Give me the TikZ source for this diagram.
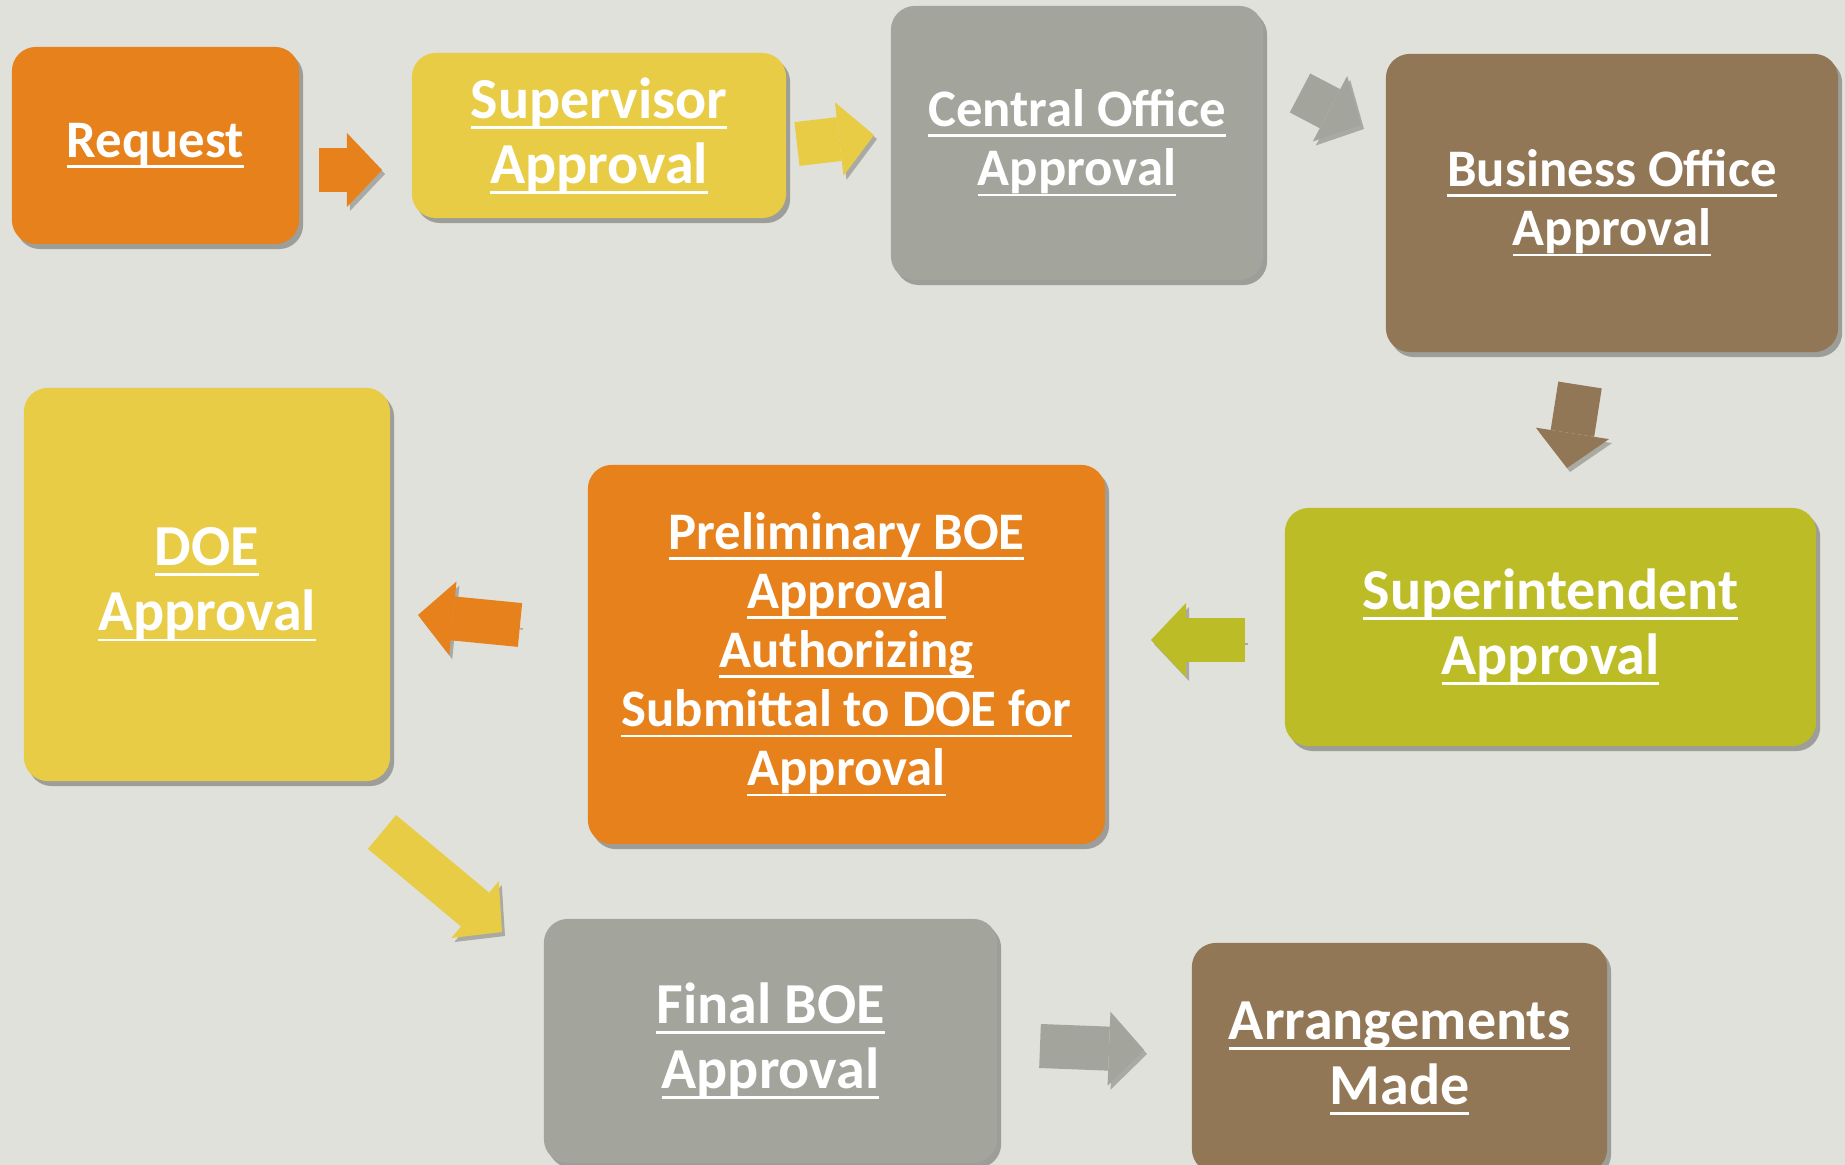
\documentclass[tikz,border=0pt]{standalone}
\usepackage{fontspec}
\setmainfont{Carlito}
\usetikzlibrary{arrows.meta,shadows}
\definecolor{bgc}{HTML}{E0E1DA}
\definecolor{orangec}{HTML}{E6811C}
\definecolor{yellowc}{HTML}{E9CC45}
\definecolor{grayc}{HTML}{A3A49C}
\definecolor{brownc}{HTML}{927756}
\definecolor{olivec}{HTML}{BCBC26}
\definecolor{shadowc}{HTML}{A9AAA3}
\newcommand{\uln}[1]{\setbox0\hbox{#1}\rlap{\rule[-3.0pt]{\wd0}{0.8pt}}\box0}

\begin{document}
\begin{tikzpicture}[x=0.01cm,y=-0.01cm,
  box/.style={fill=#1,rounded corners=0.24cm,text=white,align=center,inner sep=0pt,
    font=\bfseries\fontsize{15}{16.8}\selectfont,
    drop shadow={shadow xshift=0.04cm,shadow yshift=-0.05cm,opacity=0.45,fill=black!70}},
  big/.style={font=\bfseries\fontsize{16.5}{18.5}\selectfont},
  flow/.style={draw=#1,line width=0.44cm,-{Triangle[length=0.35cm,width=0.74cm,line width=0pt]},
    preaction={draw=shadowc,transform canvas={shift={(0.03cm,-0.04cm)}}}}]
  \fill[bgc] (0,0) rectangle (1845,1165);
  \useasboundingbox (0,0) rectangle (1845,1165);
  \node[box=orangec,minimum width=2.87cm,minimum height=1.97cm] (request) at (155.5,145.5) {\uln{Request}};
  \node[box=yellowc,big,minimum width=3.74cm,minimum height=1.65cm] (supervisor) at (599,135.5) {\uln{Supervisor}\\\uln{Approval}};
  \node[box=grayc,minimum width=3.72cm,minimum height=2.74cm] (central) at (1077,143) {\uln{Central Office}\\\uln{Approval}};
  \node[box=brownc,minimum width=4.52cm,minimum height=2.98cm] (business) at (1612,203) {\uln{Business Office}\\\uln{Approval}};
  \node[box=olivec,big,minimum width=5.31cm,minimum height=2.38cm] (superint) at (1550.5,627) {\uln{Superintendent}\\\uln{Approval}};
  \node[box=orangec,minimum width=5.17cm,minimum height=3.79cm] (prelim) at (846.5,654.5) {\uln{Preliminary BOE}\\\uln{Approval}\\\uln{Authorizing}\\\uln{Submittal to DOE for}\\\uln{Approval}};
  \node[box=yellowc,big,minimum width=3.66cm,minimum height=3.93cm] (doe) at (207,584.5) {\uln{DOE}\\\uln{Approval}};
  \node[box=grayc,big,minimum width=4.53cm,minimum height=2.44cm] (final) at (770.5,1041) {\uln{Final BOE}\\\uln{Approval}};
  \node[box=brownc,big,minimum width=4.15cm,minimum height=2.30cm] (arrange) at (1399.5,1058) {\uln{Arrangements}\\\uln{Made}};
  \coordinate (a1s) at (319,170);
  \coordinate (a1t) at (382,170);
  \coordinate (a2s) at (797,144);
  \coordinate (a2t) at (874,135);
  \coordinate (a3s) at (1300,93);
  \coordinate (a3t) at (1361,125);
  \coordinate (a4s) at (1580,385);
  \coordinate (a4t) at (1567,468);
  \coordinate (a5s) at (1245,640);
  \coordinate (a5t) at (1151,640);
  \coordinate (a6s) at (520,625);
  \coordinate (a6t) at (418,615);
  \coordinate (a7s) at (382,832);
  \coordinate (a7t) at (502,932);
  \coordinate (a8s) at (1040,1046);
  \coordinate (a8t) at (1144,1050);
  \draw[flow=orangec] (a1s) -- (a1t);
  \draw[flow=yellowc] (a2s) -- (a2t);
  \draw[flow=grayc] (a3s) -- (a3t);
  \draw[flow=brownc] (a4s) -- (a4t);
  \draw[flow=olivec] (a5s) -- (a5t);
  \draw[flow=orangec] (a6s) -- (a6t);
  \draw[flow=yellowc] (a7s) -- (a7t);
  \draw[flow=grayc] (a8s) -- (a8t);
\end{tikzpicture}
\end{document}
